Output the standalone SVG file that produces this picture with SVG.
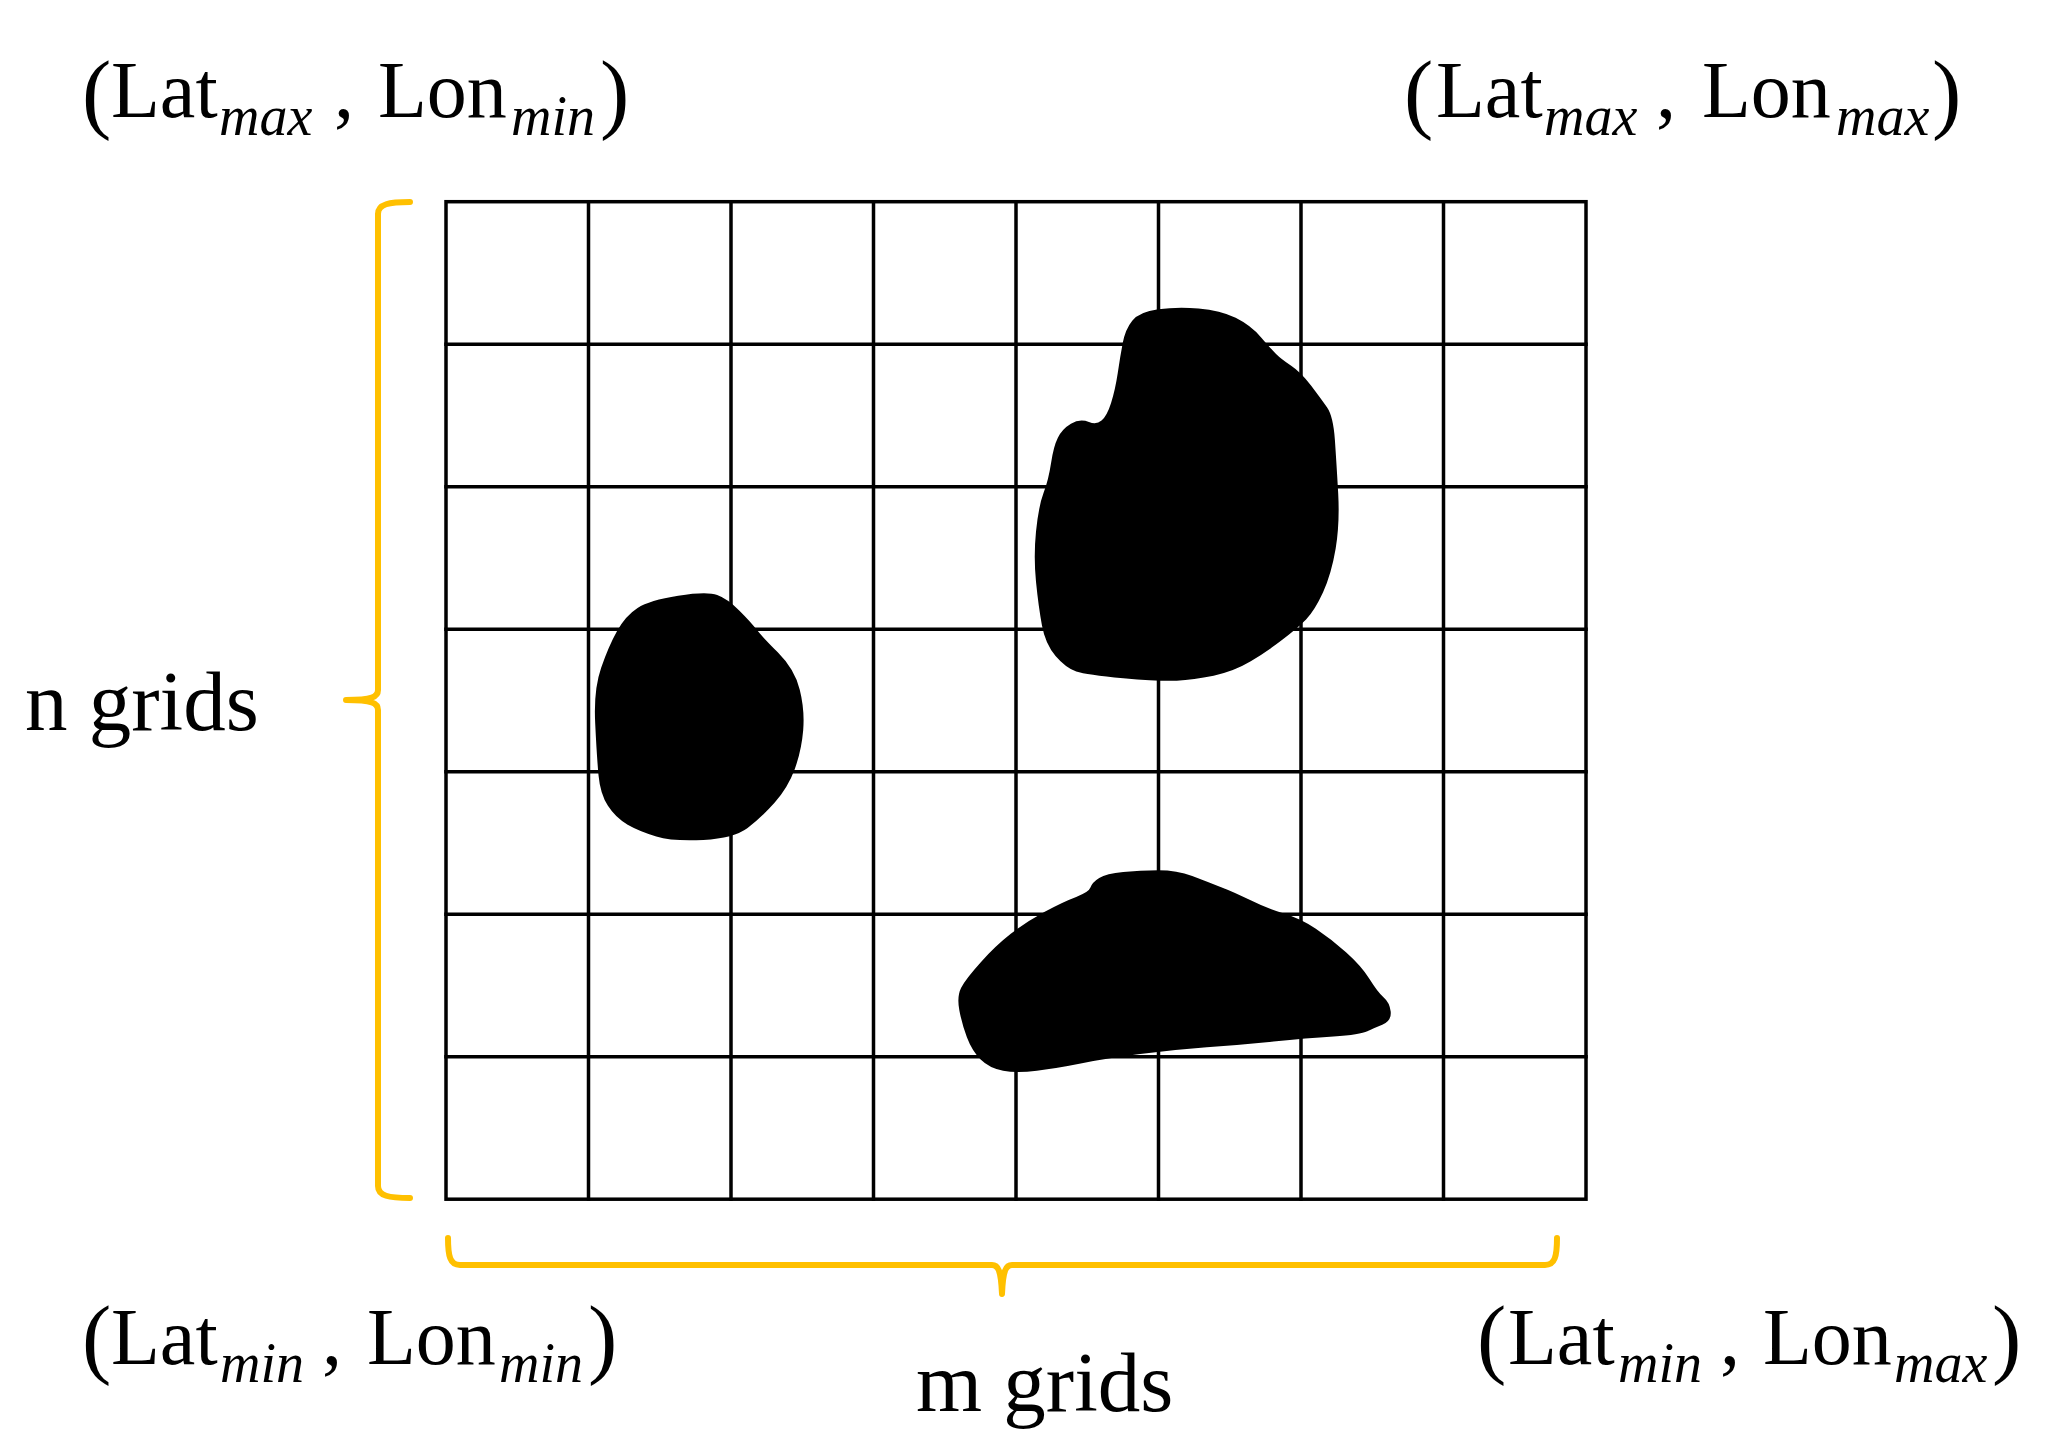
<svg xmlns="http://www.w3.org/2000/svg" width="2047" height="1449" viewBox="0 0 2047 1449">
<style>
.t{font-family:"Liberation Serif","Times New Roman",serif;font-size:80px;fill:#000}
.s{font-family:"Liberation Serif","Times New Roman",serif;font-size:56px;font-style:italic;fill:#000}
.p{font-family:"Liberation Serif","Times New Roman",serif;font-size:88px;fill:#000}
.lbl{font-family:"Liberation Serif","Times New Roman",serif;font-size:85px;fill:#000}
.grid{stroke:#000;stroke-width:3.5;fill:none;stroke-linecap:square}
.brace{stroke:#FFC000;stroke-width:6;fill:none;stroke-linecap:round;stroke-linejoin:round}
.blob{fill:#000;stroke:#000;stroke-width:3;stroke-linejoin:round}
</style>
<rect width="2047" height="1449" fill="#fff"/>
<g id="grid">
<rect class="grid" x="446" y="201.7" width="1140" height="997.5"/>
<path class="grid" d="M588.5,201.7V1199.2M731,201.7V1199.2M873.5,201.7V1199.2M1016,201.7V1199.2M1158.5,201.7V1199.2M1301,201.7V1199.2M1443.5,201.7V1199.2M446,344.2H1586M446,486.7H1586M446,629.2H1586M446,771.7H1586M446,914.2H1586M446,1056.7H1586"/>
</g>
<g id="blob-left">
<path class="blob" d="M678.4,597.2 Q650,601.7 638.4,609.2 Q626.7,616.7 618.4,631.7 Q610,646.7 602.5,668.4 Q595,690 596.7,723.4 Q598.3,756.7 600,775 Q601.7,793.3 609.2,805 Q616.7,816.7 628.4,823.4 Q640,830 656.7,835 Q673.3,840 703.3,838.4 Q733.3,836.7 746.7,826.7 Q760,816.7 773.4,801.7 Q786.7,786.7 793.4,768.4 Q800,750 801.7,730 Q803.3,710 798.3,690 Q793.3,670 776.7,653.4 Q760,636.7 755,630 Q750,623.3 738.4,611.7 Q726.7,600 716.7,596.4 Q706.7,592.7 678.4,597.2 Z"/>
</g>
<g id="blob-top">
<path class="blob" d="M1158.4,310.8 Q1176.7,308.3 1198.4,310 Q1220,311.7 1235,319.2 Q1250,326.7 1260,338.4 Q1270,350 1275,355 Q1280,360 1290,366.7 Q1300,373.3 1310,386.7 Q1320,400 1325.9,408.4 Q1331.7,416.7 1333.4,440 Q1335,463.3 1336.7,493.3 Q1338.3,523.3 1334.2,548.3 Q1330,573.3 1321.7,591.7 Q1313.3,610 1305,618.4 Q1296.7,626.7 1281.7,638.4 Q1266.7,650 1250,660 Q1233.3,670 1213.3,674.2 Q1193.3,678.3 1176.7,679.2 Q1160,680 1123.4,676.7 Q1086.7,673.3 1076.7,670 Q1066.7,666.7 1056.7,655 Q1046.7,643.3 1043.4,625 Q1040,606.7 1037.5,581.7 Q1035,556.7 1037.5,531.7 Q1040,506.7 1045,493.4 Q1050,480 1052.5,463.4 Q1055,446.7 1059.2,438.4 Q1063.3,430 1071.7,425 Q1080,420 1088.4,423.4 Q1096.7,426.7 1102.5,421.7 Q1108.3,416.7 1112.5,403.4 Q1116.7,390 1119.2,373.4 Q1121.7,356.7 1124.2,343.4 Q1126.7,330 1133.4,321.7 Q1140,313.3 1158.4,310.8 Z"/>
</g>
<g id="blob-bottom">
<path class="blob" d="M1123.4,873.4 Q1140,871.7 1158.4,871.7 Q1176.7,871.7 1191.7,877.5 Q1206.7,883.3 1220,888.3 Q1233.3,893.3 1250,901.7 Q1266.7,910 1283.4,915 Q1300,920 1315,930 Q1330,940 1345,953.4 Q1360,966.7 1368.4,980 Q1376.7,993.3 1382.5,998.3 Q1388.3,1003.3 1389.2,1011.7 Q1390,1020 1381.7,1023.4 Q1373.3,1026.7 1366.7,1030 Q1360,1033.3 1333.4,1035 Q1306.7,1036.7 1273.4,1040 Q1240,1043.3 1206.7,1045.8 Q1173.3,1048.3 1140,1052.5 Q1106.7,1056.7 1081.7,1061.7 Q1056.7,1066.7 1036.7,1069.2 Q1016.7,1071.7 1003.4,1069.2 Q990,1066.7 981.7,1058.4 Q973.3,1050 968.3,1036.7 Q963.3,1023.3 960.8,1010 Q958.3,996.7 962.5,988.4 Q966.7,980 981.7,963.4 Q996.7,946.7 1011.7,935 Q1026.7,923.3 1045,913.3 Q1063.3,903.3 1076.7,898.3 Q1090,893.3 1091.7,888.3 Q1093.3,883.3 1100,879.2 Q1106.7,875 1123.4,873.4 Z"/>
</g>
<g id="brace-n">
<path class="brace" d="M410,202 C389,202 378,204 378,214 L378,690 C378,697 372,700 346,700 C372,700 378,703 378,710 L378,1186 C378,1196 389,1198 410,1198"/>
<text class="lbl" x="25" y="730">n grids</text>
</g>
<g id="brace-m">
<path class="brace" d="M448,1238 C448,1256 450,1265 460,1265 L992,1265 C998,1265 1001,1270 1002,1294 C1003,1270 1006,1265 1012,1265 L1545,1265 C1555,1265 1557,1256 1557,1238"/>
<text class="lbl" x="916" y="1411">m grids</text>
</g>
<g id="label-top-left">
<text class="p" x="82" y="122">(</text>
<text class="t" x="111" y="117">Lat</text>
<text class="s" x="219" y="135">max</text>
<text class="t" x="334" y="117">,</text>
<text class="t" x="378" y="117">Lon</text>
<text class="s" x="511" y="135">min</text>
<text class="p" x="600" y="122">)</text>
</g>
<g id="label-top-right">
<text class="p" x="1404" y="122">(</text>
<text class="t" x="1436" y="117">Lat</text>
<text class="s" x="1544" y="135">max</text>
<text class="t" x="1656" y="117">,</text>
<text class="t" x="1702" y="117">Lon</text>
<text class="s" x="1836" y="135">max</text>
<text class="p" x="1932" y="122">)</text>
</g>
<g id="label-bottom-left">
<text class="p" x="82" y="1367">(</text>
<text class="t" x="111" y="1364">Lat</text>
<text class="s" x="220" y="1382">min</text>
<text class="t" x="322" y="1364">,</text>
<text class="t" x="367" y="1364">Lon</text>
<text class="s" x="499" y="1382">min</text>
<text class="p" x="588" y="1367">)</text>
</g>
<g id="label-bottom-right">
<text class="p" x="1477" y="1367">(</text>
<text class="t" x="1508" y="1364">Lat</text>
<text class="s" x="1618" y="1382">min</text>
<text class="t" x="1720" y="1364">,</text>
<text class="t" x="1763" y="1364">Lon</text>
<text class="s" x="1894" y="1382">max</text>
<text class="p" x="1992" y="1367">)</text>
</g>
</svg>
